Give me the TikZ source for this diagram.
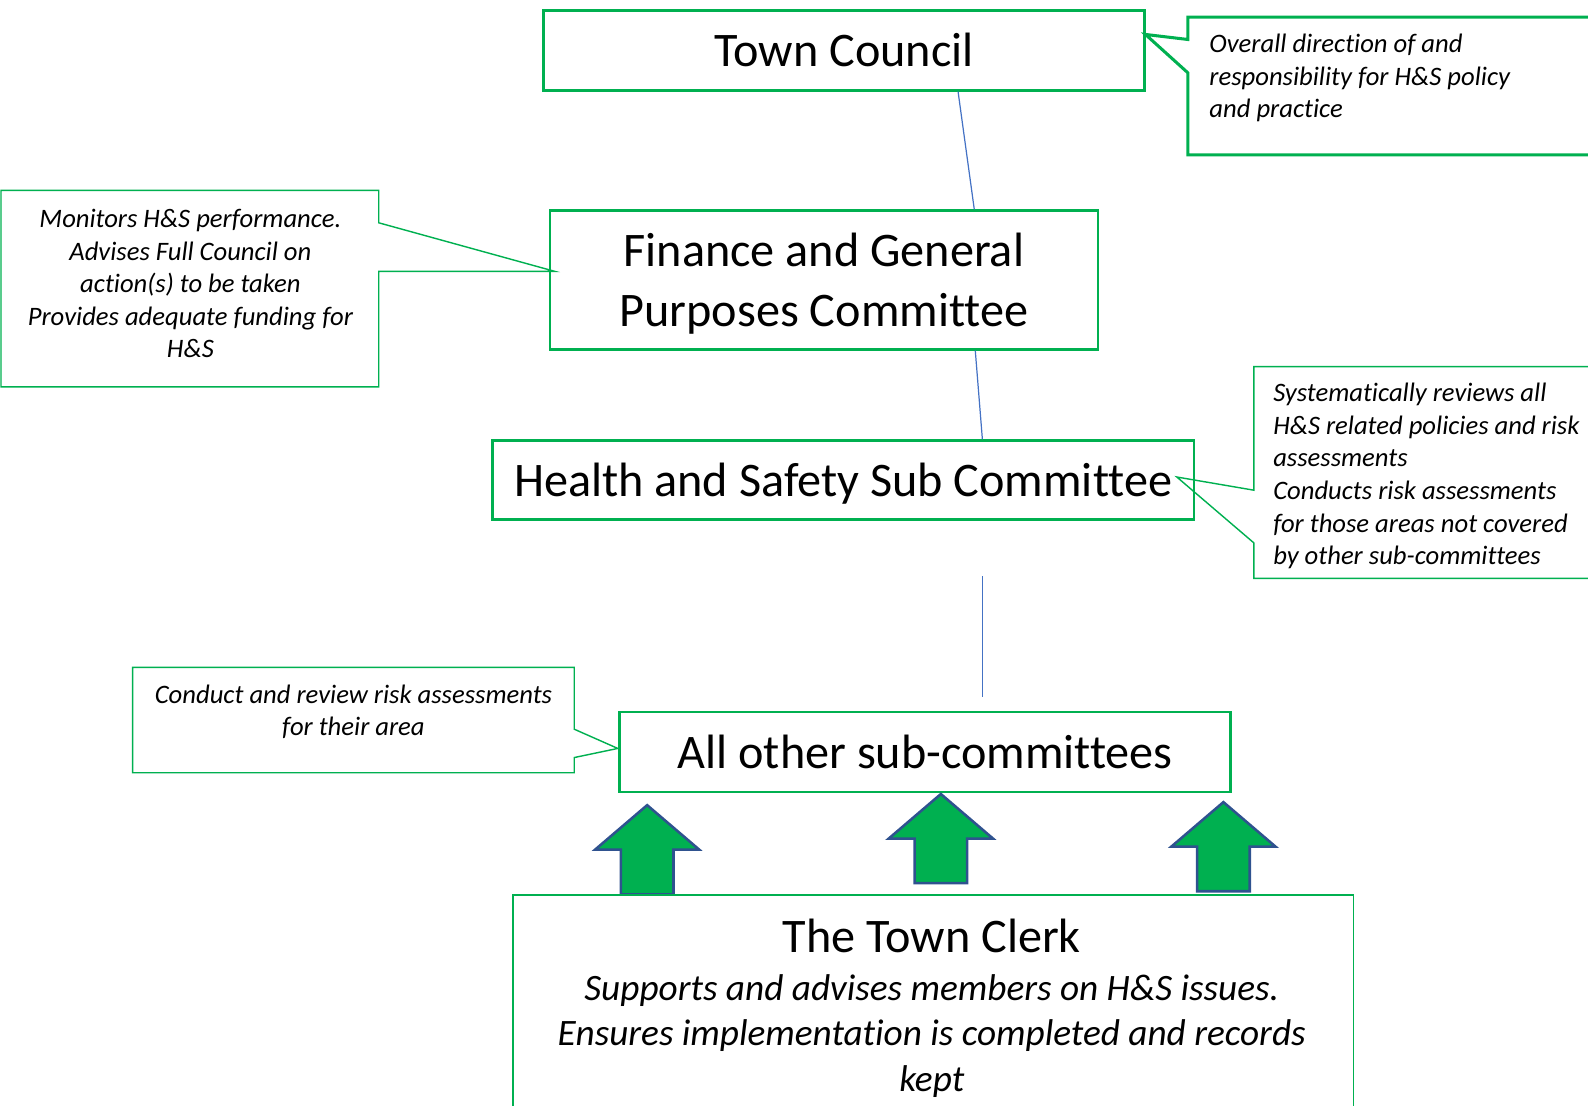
\documentclass[tikz,border=0pt]{standalone}
\usepackage{fontspec}
\setmainfont{Carlito}[Ligatures=NoCommon]
\definecolor{offgreen}{HTML}{00B050}
\definecolor{conblue}{HTML}{4472C4}
\definecolor{arrowedge}{HTML}{2F528F}
\begin{document}
\begin{tikzpicture}[x=1pt,y=-1pt,
  mainbox/.style={draw=offgreen, line width=2.6pt, inner sep=0pt, text depth=0pt, font=\fontsize{47.6}{59}\selectfont, align=center},
  callthin/.style={draw=offgreen, line width=1.4pt, line join=miter},
  callthick/.style={draw=offgreen, line width=3pt, line join=miter},
  calltext/.style={inner sep=0pt, font=\fontsize{26.3}{32.2}\selectfont\itshape},
  conn/.style={draw=conblue, line width=1.2pt},
  uparrow/.style={fill=offgreen, draw=arrowedge, line width=2.5pt, line join=miter},
]
\useasboundingbox (0,0) rectangle (1568,1092);
\clip (0,0) rectangle (1568,1092);

% main boxes
\node[mainbox, line width=3pt, minimum width=593pt, minimum height=79pt] (tc) at (833.5,49.5) {Town Council};
\node[mainbox, minimum width=541pt, minimum height=137pt] (fgpc) at (813.5,276.5) {Finance and General\\Purposes Committee};
\node[mainbox, minimum width=693pt, minimum height=78pt] (hssc) at (832.5,474) {Health and Safety Sub Committee};
\node[mainbox, minimum width=603pt, minimum height=79pt] (aosc) at (913.5,742.5) {All other sub-committees};

% connectors
\draw[conn] ([xshift=112.5pt]tc.south) -- ([xshift=148.5pt]fgpc.north);
\draw[conn] ([xshift=149.5pt]fgpc.south) -- ([xshift=137.5pt]hssc.north);
\coordinate (gapTop) at (970,569);
\coordinate (gapBot) at (970,688);
\draw[conn] (gapTop) -- (gapBot);

% callouts
\draw[callthick] (1173,17) -- (1580,17) -- (1580,153) -- (1173,153) -- (1173,72) -- (1131,34) -- (1173,39) -- cycle;
\node[calltext, align=left, anchor=west] (tcnote) at (1194,77) {Overall direction of and\\responsibility for H\&S policy\\and practice};

\draw[callthin] (1,188) -- (374,188) -- (374,220) -- (548,268) -- (374,268) -- (374,382) -- (1,382) -- cycle;
\node[calltext, align=center] (fgnote) at (188,280) {Monitors H\&S performance.\\Advises Full Council on\\action(s) to be taken\\Provides adequate funding for\\H\&S};

\draw[callthin] (1238,362) -- (1580,362) -- (1580,571) -- (1238,571) -- (1238,536) -- (1162,471) -- (1238,484) -- cycle;
\node[calltext, align=left, anchor=west] (hsnote) at (1257,470) {Systematically reviews all\\H\&S related policies and risk\\assessments\\Conducts risk assessments\\for those areas not covered\\by other sub-committees};

\draw[callthin] (131,659) -- (567,659) -- (567,720) -- (610,739) -- (567,748) -- (567,763) -- (131,763) -- cycle;
\node[calltext, align=center] (aonote) at (349,703) {Conduct and review risk assessments\\for their area};

% up arrows
\foreach \tx/\ty in {639/795, 929/784, 1208/792}{
  \draw[uparrow, shift={(\tx,\ty)}] (0,0) -- (51.5,44) -- (26,44) -- (26,88) -- (-26,88) -- (-26,44) -- (-51.5,44) -- cycle;
}

% town clerk
\node[draw=offgreen, line width=1.4pt, minimum width=830pt, minimum height=260pt, anchor=north west, inner sep=0pt] (clerk) at (506,883) {};
\node[font=\fontsize{47.6}{59}\selectfont, inner sep=0pt] (clerktitle) at (920,924) {The Town Clerk};
\node[font=\fontsize{36.8}{45}\selectfont\itshape, align=center, inner sep=0pt] (clerktext) at (920,1023) {Supports and advises members on H\&S issues.\\Ensures implementation is completed and records\\kept};
\end{tikzpicture}
\end{document}
